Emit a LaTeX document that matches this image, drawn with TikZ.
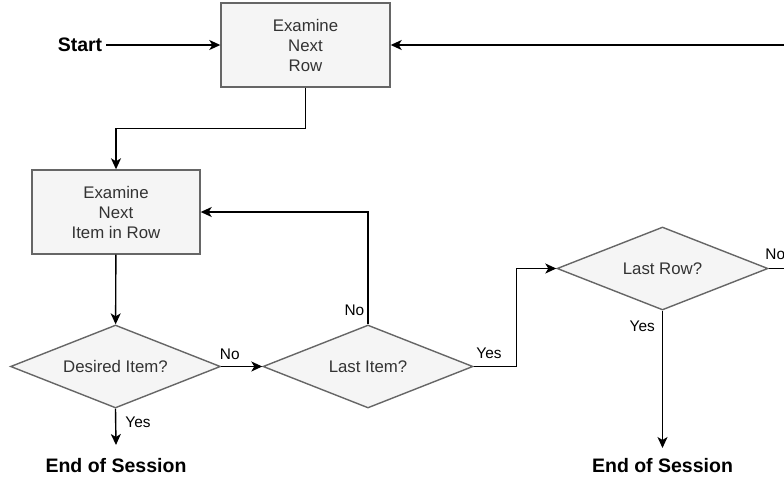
\documentclass[tikz,border=0pt]{standalone}
\usepackage{fontspec}
\setmainfont{Liberation Sans}
\usetikzlibrary{shapes.geometric,arrows.meta}
\definecolor{boxfill}{HTML}{F5F5F5}
\definecolor{boxline}{HTML}{666666}
\definecolor{boxtext}{HTML}{333333}
\begin{document}
\begin{tikzpicture}[x=1pt,y=-1pt,line width=1.4pt,
    stepbox/.style={rectangle,draw=boxline,fill=boxfill,text=boxtext,
      minimum width=169pt,minimum height=84pt,align=center,
      font=\fontsize{16.8}{20}\selectfont},
    query/.style={diamond,aspect=2.5,draw=boxline,fill=boxfill,text=boxtext,inner sep=0pt,
      minimum width=210pt,minimum height=83pt,
      font=\fontsize{16.8}{20}\selectfont},
    bigtext/.style={font=\bfseries\fontsize{19.5}{22}\selectfont},
    endtext/.style={bigtext,inner sep=0pt,outer sep=0pt,outer ysep=13pt,anchor=north},
    lbl/.style={font=\fontsize{15.4}{18}\selectfont,inner sep=2pt}]
      \useasboundingbox (0,0) rectangle (784,480);
      \clip (0,0) rectangle (784,480);
      \draw
        (80,45) node[bigtext] (start){Start}
        (305.5,45) node[stepbox] (row){Examine\\Next\\Row}
        (116,212) node[stepbox,minimum width=168pt] (item){Examine\\Next\\Item in Row}
        (115.5,366.5) node[query] (desired){Desired Item?}
        (368,366.5) node[query] (lastitem){Last Item?}
        (662.5,268.5) node[query,minimum width=211pt] (lastrow){Last Row?}
        (116,445) node[endtext] (end1){End of Session}
        (662.5,448) node[endtext,outer ysep=10pt] (end2){End of Session};
      \begin{scope}[-{Stealth[length=11pt,width=10pt,inset=3pt]}]
        \draw (start) to (row);
        \draw (row.south) -- ++(0,41) -| (item.north);
        \draw (item) to (desired);
        \draw (desired.east) -- node[lbl,pos=0,anchor=south west,xshift=-4pt,yshift=4pt]{No} (lastitem.west);
        \draw (desired.south) -- node[lbl,pos=0.38,anchor=west,xshift=7pt]{Yes} (end1.north);
        \draw (lastitem.north) |- node[lbl,pos=0,anchor=south east,xshift=-1pt,yshift=6pt]{No} (item.east);
        \draw (lastitem.east) -- node[lbl,pos=0,anchor=south west,yshift=5pt]{Yes} ++(43,0) |- (lastrow.west);
        \draw (lastrow.south) -- node[lbl,pos=0,anchor=north east,xshift=-5pt,yshift=-7pt]{Yes} (end2.north);
        \draw (lastrow.east) -- node[lbl,pos=0,anchor=south west,xshift=-6pt,yshift=6pt]{No} ++(40,0) |- (row.east);
      \end{scope}
    \end{tikzpicture}
\end{document}
